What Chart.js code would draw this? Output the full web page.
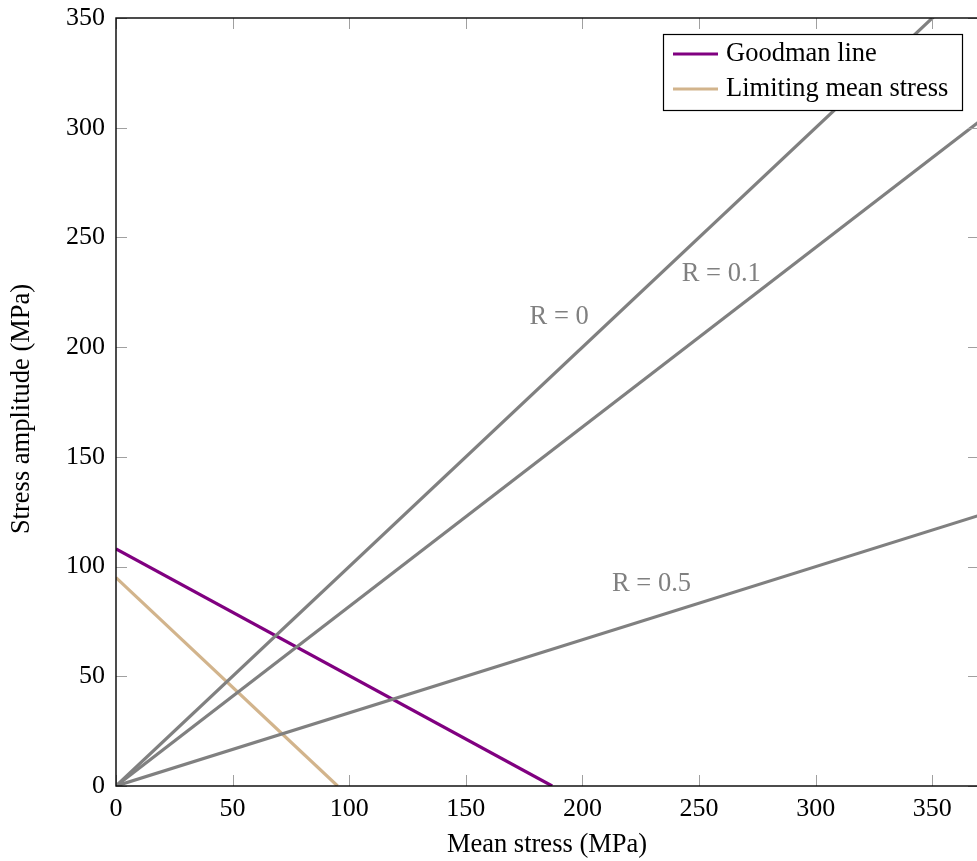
<!DOCTYPE html>
<html>
<head>
<meta charset="utf-8">
<script src="https://cdn.jsdelivr.net/npm/chart.js@4/dist/chart.umd.min.js"></script>
<style>
  html, body { margin: 0; padding: 0; background: #fff; overflow: hidden; }
  #wrap { width: 979px; height: 861px; }
</style>
</head>
<body>
<div id="wrap"><canvas id="c" width="979" height="861"></canvas></div>
<script>
// Goodman diagram: amplitude vs mean stress (MPa)
const goodmanX = [0, 187];
const goodmanY = [108, 0];
const limitingX = [0, 95];
const limitingY = [95, 0];

// constant stress-ratio load lines
const r0X = [0, 370];
const r0Y = [0, 370];
const r01X = [0, 370];
const r01Y = [0, 302.7];
const r05X = [0, 370];
const r05Y = [0, 123.3];

const ratioLabels = ['R = 0', 'R = 0.1', 'R = 0.5'];
const ratioLabelX = [190, 259.5, 229.6];
const ratioLabelY = [213.5, 233.5, 92];

const xTicks = [0, 50, 100, 150, 200, 250, 300, 350];
const yTicks = [0, 50, 100, 150, 200, 250, 300, 350];

const SERIF = '"Liberation Serif", "Times New Roman", serif';
const GRAY = '#808080';
const TEXT_SIZE = 26.5;
const TICK_SIZE = 26;

const pts = (xs, ys) => xs.map((x, i) => ({ x: x, y: ys[i] }));

const lineStyle = (color, order) => ({
  borderColor: color,
  backgroundColor: color,
  borderWidth: 3.2,
  pointRadius: 0,
  tension: 0,
  fill: false,
  order: order
});

const datasets = [
  Object.assign({ label: 'Goodman line', data: pts(goodmanX, goodmanY), inLegend: true }, lineStyle('#800080', 1)),
  Object.assign({ label: 'Limiting mean stress', data: pts(limitingX, limitingY), inLegend: true }, lineStyle('#D2B48C', 1)),
  Object.assign({ label: 'R = 0', data: pts(r0X, r0Y) }, lineStyle(GRAY, 0)),
  Object.assign({ label: 'R = 0.1', data: pts(r01X, r01Y) }, lineStyle(GRAY, 0)),
  Object.assign({ label: 'R = 0.5', data: pts(r05X, r05Y) }, lineStyle(GRAY, 0))
];

// frame, inward ticks, axis titles, ratio labels and boxed legend
const decorations = {
  id: 'decorations',
  afterDatasetsDraw(chart) {
    const ctx = chart.ctx;
    const a = chart.chartArea;
    const xs = chart.scales.x, ys = chart.scales.y;
    ctx.save();

    // ratio labels
    ctx.fillStyle = GRAY;
    ctx.font = TEXT_SIZE + 'px ' + SERIF;
    ctx.textAlign = 'center';
    ctx.textBaseline = 'middle';
    ratioLabels.forEach((t, i) => {
      ctx.fillText(t, xs.getPixelForValue(ratioLabelX[i]), ys.getPixelForValue(ratioLabelY[i]));
    });

    // inward tick marks
    const tl = 11;
    ctx.strokeStyle = '#a0a0a0';
    ctx.lineWidth = 1;
    ctx.beginPath();
    xTicks.forEach(v => {
      const px = Math.round(xs.getPixelForValue(v)) + 0.5;
      ctx.moveTo(px, a.bottom); ctx.lineTo(px, a.bottom - tl);
      ctx.moveTo(px, a.top); ctx.lineTo(px, a.top + tl);
    });
    yTicks.forEach(v => {
      const py = Math.round(ys.getPixelForValue(v)) + 0.5;
      ctx.moveTo(a.left, py); ctx.lineTo(a.left + tl, py);
      ctx.moveTo(a.right, py); ctx.lineTo(a.right - tl, py);
    });
    ctx.stroke();

    // frame
    ctx.strokeStyle = '#000';
    ctx.lineWidth = 1.4;
    ctx.strokeRect(a.left, a.top, a.right - a.left, a.bottom - a.top);

    // axis titles
    ctx.fillStyle = '#000';
    ctx.font = TEXT_SIZE + 'px ' + SERIF;
    ctx.textAlign = 'center';
    ctx.textBaseline = 'middle';
    ctx.fillText('Mean stress (MPa)', 547, 845);
    ctx.save();
    ctx.translate(22, 409);
    ctx.rotate(-Math.PI / 2);
    ctx.fillText('Stress amplitude (MPa)', 0, 0);
    ctx.restore();

    // legend box
    const bx = 663.5, by = 34.5, bw = 299, bh = 76;
    ctx.fillStyle = '#fff';
    ctx.fillRect(bx, by, bw, bh);
    ctx.strokeStyle = '#000';
    ctx.lineWidth = 1.2;
    ctx.strokeRect(bx, by, bw, bh);
    ctx.font = TEXT_SIZE + 'px ' + SERIF;
    ctx.textAlign = 'left';
    ctx.textBaseline = 'middle';
    const items = chart.data.datasets.filter(d => d.inLegend);
    items.forEach((d, i) => {
      const y = 54 + i * 35;
      ctx.strokeStyle = d.borderColor;
      ctx.lineWidth = 3.2;
      ctx.beginPath();
      ctx.moveTo(673, y); ctx.lineTo(718, y);
      ctx.stroke();
      ctx.fillStyle = '#000';
      ctx.fillText(d.label, 726, y);
    });

    ctx.restore();
  }
};

new Chart(document.getElementById('c'), {
  type: 'line',
  data: { datasets: datasets },
  options: {
    responsive: false,
    animation: false,
    events: [],
    layout: { padding: { top: 18, left: 0, right: 0, bottom: 0 } },
    plugins: { legend: { display: false }, tooltip: { enabled: false } },
    scales: {
      x: {
        type: 'linear',
        min: 0,
        max: 370,
        grid: { display: false },
        border: { display: false },
        afterBuildTicks: s => { s.ticks = xTicks.map(v => ({ value: v })); },
        afterFit: s => { s.height = 75; s.paddingLeft = 0; s.paddingRight = 0; },
        ticks: {
          color: '#000',
          font: { family: SERIF, size: TICK_SIZE },
          padding: 0,
          maxRotation: 0,
          autoSkip: false
        }
      },
      y: {
        type: 'linear',
        min: 0,
        max: 350,
        grid: { display: false },
        border: { display: false },
        afterBuildTicks: s => { s.ticks = yTicks.map(v => ({ value: v })); },
        afterFit: s => { s.width = 116; s.paddingTop = 0; s.paddingBottom = 0; },
        ticks: {
          color: '#000',
          font: { family: SERIF, size: TICK_SIZE },
          padding: 3,
          autoSkip: false
        }
      }
    }
  },
  plugins: [decorations]
});
</script>
</body>
</html>
